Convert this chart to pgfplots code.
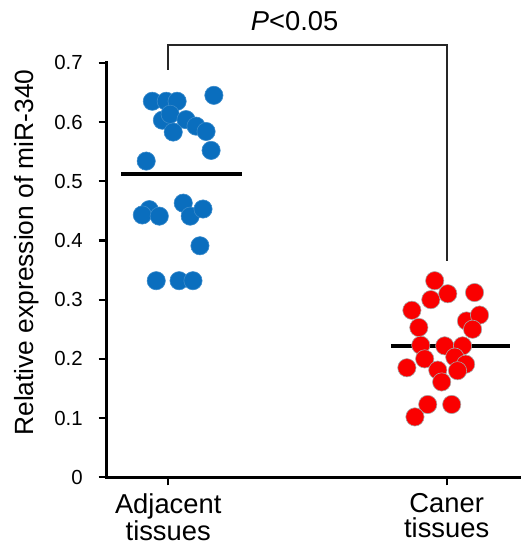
\documentclass[border=0pt]{standalone}
\usepackage{pgfplots}
\pgfplotsset{compat=1.18}
\usepackage{fontspec}
\setmainfont{Liberation Sans}
\definecolor{dotblue}{RGB}{10,110,190}
\definecolor{dotred}{RGB}{250,0,0}
\begin{document}
\begin{tikzpicture}
\begin{axis}[
  scale only axis, width=416pt, height=417pt,
  xmin=-0.221, xmax=1.264, ymin=0, ymax=0.7,
  axis x line*=bottom, axis y line*=left,
  axis line style={line width=2.6pt, line cap=rect},
  tick style={line width=2.2pt, black},
  tick align=outside, major tick length=8pt,
  xtick={0,1}, xticklabels={Adjacent\\tissues, Caner\\tissues},
  x tick label style={align=center, font=\fontsize{27.5}{25}\selectfont, yshift=-5pt},
  ytick={0,0.1,0.2,0.3,0.4,0.5,0.6,0.7},
  yticklabel=\empty,
  ylabel={Relative expression of miR-340},
  ylabel style={at={(rel axis cs:0,0.542)}, anchor=center, yshift=80pt, font=\fontsize{26.5}{30}\selectfont},
  clip=false,
]
\addplot[only marks, mark=*, mark size=9.2pt, mark options={fill=dotblue, draw=dotblue!80!white, line width=0.6pt}] table {
x y
-0.057 0.635
-0.007 0.635
0.032 0.635
0.164 0.645
-0.021 0.603
0.007 0.613
0.064 0.604
0.100 0.593
0.136 0.584
0.018 0.583
0.154 0.552
-0.079 0.534
-0.068 0.452
-0.093 0.443
-0.032 0.441
0.054 0.463
0.079 0.441
0.125 0.453
0.114 0.391
-0.043 0.332
0.039 0.332
0.089 0.332
};
\addplot[only marks, mark=*, mark size=9.2pt, mark options={fill=dotred, draw=gray!70, line width=0.6pt}] table {
x y
0.957 0.332
0.943 0.300
1.004 0.310
1.100 0.312
0.875 0.282
0.900 0.253
1.071 0.264
1.118 0.274
1.093 0.250
0.907 0.223
0.993 0.222
1.057 0.222
0.921 0.200
1.029 0.203
1.068 0.191
1.039 0.180
0.857 0.185
0.968 0.181
0.982 0.161
0.932 0.123
1.018 0.123
0.886 0.102
};
\addplot[black, line width=4.5pt] coordinates {(-0.168,0.512) (0.264,0.512)};
\addplot[black, line width=4.5pt] coordinates {(0.800,0.222) (1.229,0.222)};
\addplot[black!85, line width=2pt] coordinates {(0,0.688) (0,0.730) (1,0.730) (1,0.366)};
\node[font=\fontsize{27.5}{30}\selectfont] at (axis cs:0.454,0.771) {\textit{P}<0.05};
\begin{scope}[every node/.style={anchor=east, font=\fontsize{20.5}{24}\selectfont, xshift=-24pt, inner sep=0pt}]
\node at (axis cs:-0.221,0.7) {0.7};
\node at (axis cs:-0.221,0.6) {0.6};
\node at (axis cs:-0.221,0.5) {0.5};
\node at (axis cs:-0.221,0.4) {0.4};
\node at (axis cs:-0.221,0.3) {0.3};
\node at (axis cs:-0.221,0.2) {0.2};
\node at (axis cs:-0.221,0.1) {0.1};
\node at (axis cs:-0.221,0) {0};
\end{scope}
\path (axis cs:-0.604,-0.116) rectangle (axis cs:1.264,0.806);
\end{axis}
\end{tikzpicture}
\end{document}
